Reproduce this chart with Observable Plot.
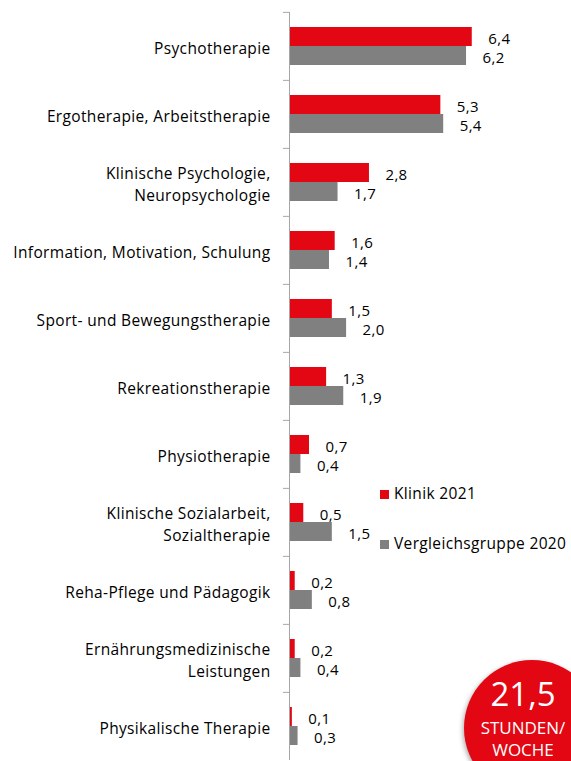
<!DOCTYPE html>
<html><head><meta charset="utf-8">
<script src="https://cdn.jsdelivr.net/npm/d3@7"></script>
<script src="https://cdn.jsdelivr.net/npm/@observablehq/plot@0.6"></script>
<style>
html,body{margin:0;padding:0;background:#fff;}
#wrap{position:relative;width:571px;height:761px;overflow:hidden;font-family:"Open Sans",sans-serif;color:#000;}
#wrap svg{position:absolute;left:0;top:0;}
#wrap svg text{letter-spacing:0.35px;}
.leg{position:absolute;font-size:15.5px;line-height:18px;letter-spacing:0.35px;white-space:nowrap;}
.leg span.sw{display:inline-block;width:9px;height:9px;margin-right:5px;vertical-align:0px;}
#badge{position:absolute;left:464px;top:660px;width:136px;height:136px;border-radius:50%;background:#e30613;box-shadow:-1px 2px 5px rgba(0,0,0,0.35);}
.bt{position:absolute;color:#fff;text-align:center;width:120px;left:463px;white-space:nowrap;}
</style></head><body>
<div id="wrap"></div>
<script>
const categories = [
  "Psychotherapie",
  "Ergotherapie, Arbeitstherapie",
  "Klinische Psychologie,\nNeuropsychologie",
  "Information, Motivation, Schulung",
  "Sport- und Bewegungstherapie",
  "Rekreationstherapie",
  "Physiotherapie",
  "Klinische Sozialarbeit,\nSozialtherapie",
  "Reha-Pflege und Pädagogik",
  "Ernährungsmedizinische\nLeistungen",
  "Physikalische Therapie"
];
const klinik2021 = [6.4, 5.3, 2.8, 1.6, 1.5, 1.3, 0.7, 0.5, 0.2, 0.2, 0.1];
const vergleich2020 = [6.2, 5.4, 1.7, 1.4, 2.0, 1.9, 0.4, 1.5, 0.8, 0.4, 0.3];
const seriesNames = ["Klinik 2021", "Vergleichsgruppe 2020"];
const seriesColors = ["#e30613", "#808080"];
const badgeValue = "21,5";
const badgeUnit = ["STUNDEN/", "WOCHE"];

const data = categories.flatMap((c, i) => [
  {category: c, series: seriesNames[0], value: klinik2021[i]},
  {category: c, series: seriesNames[1], value: vergleich2020[i]}
]);
const fmt = v => d3.format(".1f")(v).replace(".", ",");

const chart = Plot.plot({
  width: 571,
  height: 761,
  marginLeft: 289,
  marginRight: 25,
  marginTop: 10,
  marginBottom: 0,
  style: {fontFamily: "'Open Sans', sans-serif", fontSize: "15.5px", color: "#000", background: "transparent"},
  x: {domain: [0, 9], axis: null},
  y: {domain: seriesNames, axis: null, paddingInner: 0, paddingOuter: 0.75},
  fy: {domain: categories, axis: null, padding: 0},
  color: {domain: seriesNames, range: seriesColors},
  marks: [
    Plot.barX(data, {fy: "category", y: "series", x: "value", fill: "series"}),
    Plot.text(data, {fy: "category", y: "series", x: "value", text: d => fmt(d.value),
      textAnchor: "start", dx: 16, dy: 2, fontSize: 15, fill: "#000"}),
    Plot.text(categories, {fy: d => d, text: d => d, frameAnchor: "left", dx: -19,
      textAnchor: "end", lineHeight: 1.42, fontSize: 15.5, fill: "#000"}),
    Plot.ruleX([0], {stroke: "#a6a6a6", strokeWidth: 1}),
    Plot.axisFy({anchor: "left", label: null, tickSize: 6, tickFormat: () => "", dy: -34.14, stroke: "#a6a6a6"})
  ]
});
const wrap = document.getElementById("wrap");
wrap.appendChild(chart);

// legend
const legTops = [484, 534];
seriesNames.forEach((s, i) => {
  const d = document.createElement("div");
  d.className = "leg";
  d.style.left = "380px";
  d.style.top = legTops[i] + "px";
  d.innerHTML = `<span class="sw" style="background:${seriesColors[i]}"></span>${s}`;
  wrap.appendChild(d);
});

// badge
const b = document.createElement("div");
b.id = "badge";
wrap.appendChild(b);
const t1 = document.createElement("div");
t1.className = "bt"; t1.style.top = "677px"; t1.style.fontSize = "33px"; t1.style.lineHeight = "34px";
t1.textContent = badgeValue;
wrap.appendChild(t1);
badgeUnit.forEach((u, i) => {
  const t = document.createElement("div");
  t.className = "bt"; t.style.top = (719 + i * 22) + "px"; t.style.fontSize = "17px"; t.style.lineHeight = "18px";
  t.textContent = u;
  wrap.appendChild(t);
});
</script>
</body></html>
